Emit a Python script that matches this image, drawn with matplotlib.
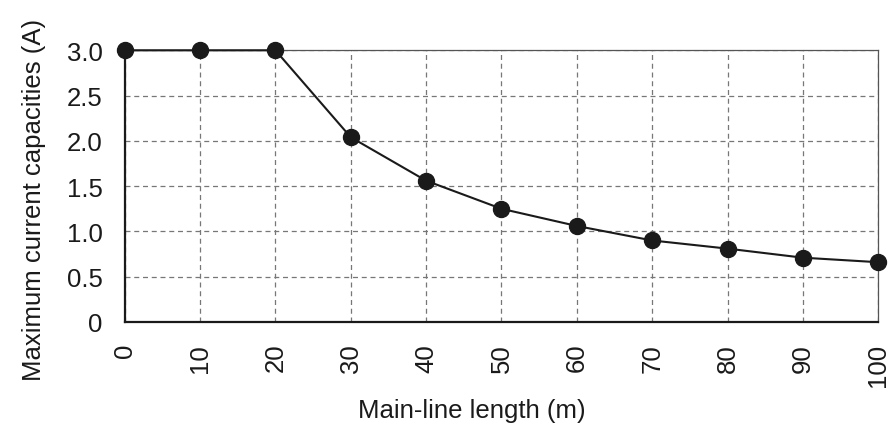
import matplotlib
matplotlib.use("Agg")
import matplotlib.pyplot as plt

plt.rcParams['font.family'] = ['Liberation Sans', 'DejaVu Sans']

# data
length_m = [0, 10, 20, 30, 40, 50, 60, 70, 80, 90, 100]
current_a = [3.0, 3.0, 3.0, 2.04, 1.56, 1.25, 1.06, 0.90, 0.81, 0.71, 0.66]
y_ticks = [0, 0.5, 1.0, 1.5, 2.0, 2.5, 3.0]
y_tick_labels = ['0', '0.5', '1.0', '1.5', '2.0', '2.5', '3.0']

fig = plt.figure(figsize=(8.93, 4.27), dpi=100)
ax = fig.add_axes([0.1396, 0.2436, 0.8439, 0.6363])

ax.plot(length_m, current_a, color='#1a1a1a', linewidth=1.5, marker='o',
        markersize=11.5, clip_on=False, zorder=5)

ax.set_xlim(0, 100)
ax.set_ylim(0, 3.0)
ax.set_xticks(length_m)
ax.set_xticklabels([str(v) for v in length_m], rotation=90)
ax.set_yticks(y_ticks)
ax.set_yticklabels(y_tick_labels)
ax.tick_params(axis='both', length=0, labelsize=18.5, colors='#1a1a1a')
ax.tick_params(axis='y', pad=16)
ax.tick_params(axis='x', pad=15)

ax.grid(True, linestyle=(0, (4, 3)), color='#777777', linewidth=0.9)
ax.set_axisbelow(True)

ax.spines['left'].set_linewidth(1.6)
ax.spines['bottom'].set_linewidth(1.6)
ax.spines['left'].set_color('#1a1a1a')
ax.spines['bottom'].set_color('#1a1a1a')
for s in ['top', 'right']:
    ax.spines[s].set_linewidth(0.9)
    ax.spines[s].set_color('#555555')

ax.set_xlabel('Main-line length (m)', fontsize=18.5, color='#1a1a1a', labelpad=8.5)
ax.set_ylabel('Maximum current capacities (A)', fontsize=18.5, color='#1a1a1a', labelpad=15)
# labels in the reference sit a little off-centre
ax.xaxis.label.set_x(0.46)
ax.yaxis.label.set_y(0.453)

fig.savefig('out.png', dpi=100)
